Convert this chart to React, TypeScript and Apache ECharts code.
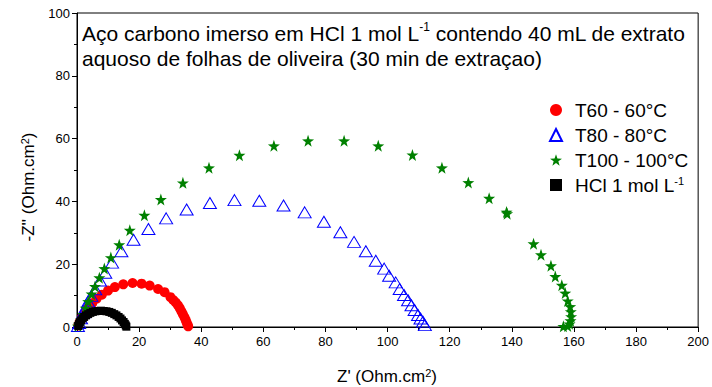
import React, { useEffect, useRef } from "react";
import * as echarts from "echarts";

const seriesNames = ["T60 - 60°C", "T80 - 80°C", "T100 - 100°C", "HCl 1 mol L-1"];

const t60Points: number[][] = [
  [0.4, 0.5], [0.9, 1.7], [1.6, 3.1], [2.5, 4.6], [3.6, 6.1], [4.9, 7.6], [6.3, 9.0], [8.0, 10.3],
  [10.0, 11.6], [12.2, 12.7], [14.9, 13.6], [17.9, 14.0], [20.8, 13.8], [23.4, 13.2], [26.1, 12.1],
  [28.2, 11.1], [30.1, 9.5], [31.0, 8.6], [31.8, 7.8], [32.5, 6.9], [33.1, 6.0], [33.6, 5.0],
  [34.1, 4.1], [34.6, 3.1], [35.0, 2.2], [35.3, 1.4], [35.6, 0.7], [35.8, 0.2],
];

const t80Points: number[][] = [
  [0.3, 0.3], [0.7, 1.3], [1.3, 2.8], [2.0, 4.5], [2.8, 6.3], [3.6, 8.1], [4.6, 9.9], [5.9, 12.0],
  [7.4, 14.8], [9.1, 17.3], [11.3, 20.5], [14.3, 24.1], [18.2, 27.8], [23.0, 31.2], [28.7, 34.6],
  [35.3, 37.4], [42.8, 39.5], [50.7, 40.4], [58.7, 40.2], [66.5, 38.7], [73.3, 36.5], [79.5, 33.5],
  [84.8, 30.2], [89.2, 27.1], [93.0, 24.1], [96.2, 21.1], [98.9, 18.6], [100.5, 16.3], [102.6, 14.2],
  [103.9, 12.1], [105.3, 10.2], [106.6, 8.5], [107.7, 6.9], [108.7, 5.4], [109.8, 3.8], [110.6, 2.7],
  [111.4, 1.7], [112.0, 0.6],
];

const t100Points: number[][] = [
  [0.3, 0.3], [0.6, 0.9], [1.3, 2.2], [2.0, 4.0], [2.8, 6.0], [3.6, 8.1], [4.7, 10.5], [5.8, 12.9],
  [7.2, 15.7], [8.8, 18.6], [10.9, 22.1], [13.6, 26.2], [17.0, 30.8], [21.7, 35.6], [27.0, 40.6],
  [34.1, 45.9], [42.5, 50.7], [52.3, 54.7], [63.4, 57.7], [74.4, 59.3], [86.0, 59.3], [97.0, 57.7],
  [108.0, 54.8], [117.5, 50.7], [126.0, 46.0], [132.7, 41.0], [138.3, 36.6], [138.5, 36.1],
  [147.0, 26.5], [149.4, 23.0], [152.6, 19.5], [154.0, 16.1], [156.1, 13.3], [157.2, 10.8],
  [158.0, 8.3], [158.8, 6.5], [159.0, 4.9], [159.1, 3.3], [158.9, 2.0], [158.6, 1.0], [158.0, 0.3],
  [156.6, 0.2],
];

const hclPoints: number[][] = [
  [0.4, 0.3], [0.6, 0.9], [0.9, 1.5], [1.3, 2.1], [1.8, 2.7], [2.3, 3.2], [2.9, 3.7], [3.6, 4.1],
  [4.3, 4.5], [5.1, 4.8], [5.9, 5.0], [6.8, 5.1], [7.7, 5.2], [8.6, 5.1], [9.5, 5.0], [10.4, 4.8],
  [11.2, 4.5], [12.0, 4.1], [12.7, 3.7], [13.4, 3.2], [14.0, 2.7], [14.5, 2.1], [15.0, 1.6],
  [15.4, 1.0], [15.7, 0.5], [15.9, 0.1],
];

const xTicks = { min: 0, max: 200, interval: 20 };
const yTicks = { min: 0, max: 100, interval: 20 };

const STAR =
  "path://M50,0 L61.8,35.1 L98.9,35.5 L69.1,57.6 L79.4,93 L50,71.8 L20.6,93 L30.9,57.6 L1.1,35.5 L38.2,35.1 Z";

const FONT = "Liberation Sans, Arial, sans-serif";

export default function App() {
  const ref = useRef<HTMLDivElement>(null);
  useEffect(() => {
    document.body.style.margin = "0";
    const chart = echarts.init(ref.current!, null, { renderer: "svg" });
    const axisCommon = {
      type: "value" as const,
      splitLine: { show: false },
      axisLine: { onZero: false, lineStyle: { color: "#000", width: 1 } },
      axisTick: { inside: false, length: 5, lineStyle: { color: "#000" } },
      minorTick: { show: true, splitNumber: 2, length: 3, lineStyle: { color: "#000" } },
      axisLabel: { color: "#000", fontSize: 13, fontFamily: FONT },
    };
    chart.setOption({
      animation: false,
      backgroundColor: "#fff",
      textStyle: { fontFamily: FONT },
      grid: {
        left: 77,
        right: 12,
        top: 13,
        bottom: 60,
        show: true,
        borderColor: "#000",
        borderWidth: 1,
        backgroundColor: "transparent",
      },
      title: {
        left: 77,
        top: 16,
        text: "Aço carbono imerso em HCl 1 mol L{sup|-1} contendo 40 mL de extrato\naquoso de folhas de oliveira (30 min de extraçao)",
        textStyle: {
          fontSize: 21,
          fontWeight: "normal",
          color: "#000",
          fontFamily: FONT,
          lineHeight: 25,
          rich: {
            sup: { fontSize: 12, lineHeight: 14, verticalAlign: "top", color: "#000", fontFamily: FONT },
          },
        },
      },
      legend: {
        orient: "vertical",
        left: 544,
        top: 95,
        itemWidth: 12,
        itemHeight: 12,
        itemGap: 5,
        data: seriesNames,
        formatter: (name: string) => (name === "HCl 1 mol L-1" ? "HCl 1 mol L{sup|-1}" : name),
        textStyle: {
          fontSize: 19,
          lineHeight: 20,
          color: "#000",
          fontFamily: FONT,
          padding: [0, 0, 0, 8],
          rich: {
            sup: { fontSize: 11, lineHeight: 12, verticalAlign: "top", color: "#000", fontFamily: FONT },
          },
        },
      },
      xAxis: { ...axisCommon, ...xTicks },
      yAxis: { ...axisCommon, ...yTicks, axisLabel: { ...axisCommon.axisLabel, margin: 7 } },
      graphic: [
        {
          type: "text",
          x: 387,
          y: 376,
          style: {
            text: "Z' (Ohm.cm{sup|2})",
            fontSize: 17,
            fontFamily: FONT,
            fill: "#000",
            align: "center",
            verticalAlign: "middle",
            rich: { sup: { fontSize: 11, lineHeight: 12, verticalAlign: "top", fill: "#000", fontFamily: FONT } },
          },
        },
        {
          type: "text",
          x: 28,
          y: 187,
          rotation: Math.PI / 2,
          style: {
            text: "-Z'' (Ohm.cm{sup|2})",
            fontSize: 17,
            fontFamily: FONT,
            fill: "#000",
            align: "center",
            verticalAlign: "middle",
            rich: { sup: { fontSize: 11, lineHeight: 12, verticalAlign: "top", fill: "#000", fontFamily: FONT } },
          },
        },
      ],
      series: [
        {
          name: seriesNames[0],
          type: "scatter",
          data: t60Points,
          symbol: "circle",
          symbolSize: 10,
          itemStyle: { color: "#ff0000", opacity: 1 },
        },
        {
          name: seriesNames[1],
          type: "scatter",
          data: t80Points,
          symbol: "triangle",
          symbolSize: [13, 11],
          itemStyle: { color: "rgba(255,255,255,0)", borderColor: "#0000ff", borderWidth: 1, opacity: 1 },
        },
        {
          name: seriesNames[2],
          type: "scatter",
          data: t100Points,
          symbol: STAR,
          symbolSize: 12,
          itemStyle: { color: "#008000", opacity: 1 },
        },
        {
          name: seriesNames[3],
          type: "scatter",
          data: hclPoints,
          symbol: "rect",
          symbolSize: 8,
          itemStyle: { color: "#000", opacity: 1 },
        },
      ],
    });
    return () => chart.dispose();
  }, []);
  return <div ref={ref} style={{ position: "fixed", left: 0, top: 0, width: 712, height: 387 }} />;
}
